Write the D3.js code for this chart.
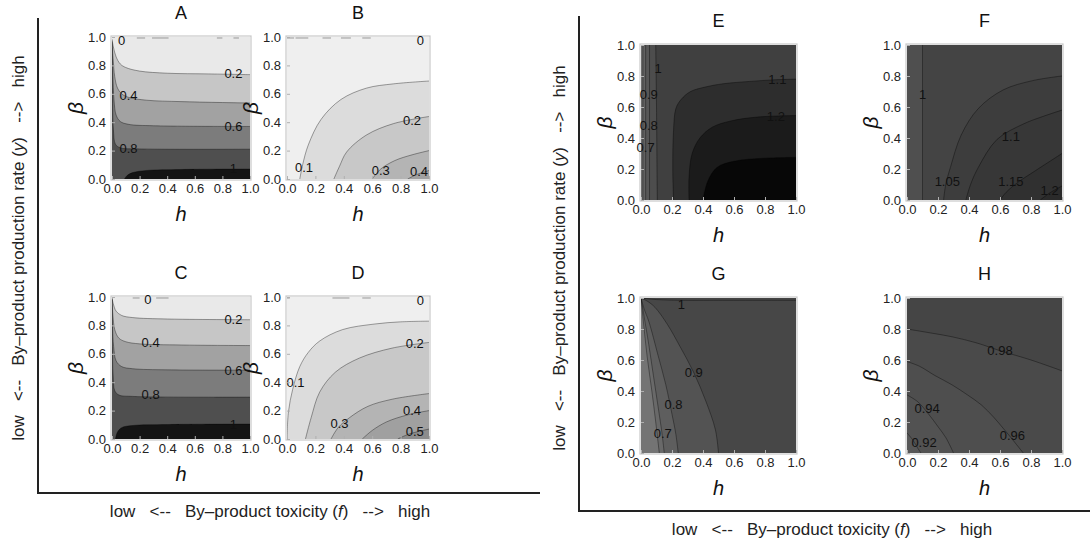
<!DOCTYPE html>
<html>
<head>
<meta charset="utf-8">
<script src="https://cdn.jsdelivr.net/npm/d3@7"></script>
<style>
  body { margin: 0; background: #fff; }
  svg { font-family: "Liberation Sans", Arial, sans-serif; }
</style>
</head>
<body>
<svg id="chart" width="1090" height="546"></svg>
<script>
// ---- data: contour lines as [h, beta] points ----
const tickValues = [0, 0.2, 0.4, 0.6, 0.8, 1.0];
const panelNames = ["A", "B", "C", "D", "E", "F", "G", "H"];

const contoursA = [
  { level: 0.2, pts: [[0, 0.985], [0.01, 0.93], [0.03, 0.86], [0.06, 0.81], [0.1, 0.785], [0.2, 0.76], [0.4, 0.745], [0.7, 0.74], [1, 0.735]], close: [[1, 0], [0, 0]] },
  { level: 0.4, pts: [[0, 0.975], [0.008, 0.85], [0.02, 0.72], [0.04, 0.64], [0.07, 0.6], [0.12, 0.575], [0.25, 0.555], [0.5, 0.545], [1, 0.535]], close: [[1, 0], [0, 0]] },
  { level: 0.6, pts: [[0, 0.965], [0.006, 0.75], [0.015, 0.55], [0.03, 0.45], [0.06, 0.405], [0.12, 0.385], [0.3, 0.375], [1, 0.37]], close: [[1, 0], [0, 0]] },
  { level: 0.8, pts: [[0, 0.955], [0.004, 0.6], [0.01, 0.35], [0.025, 0.245], [0.06, 0.22], [0.2, 0.212], [1, 0.21]], close: [[1, 0], [0, 0]] },
  { level: 1, pts: [[0.09, 0], [0.11, 0.025], [0.15, 0.045], [0.25, 0.06], [0.5, 0.067], [1, 0.07]], close: [[1, 0]] }
];
const labelsA = [["0", 0.07, 0.975], ["0.2", 0.88, 0.74], ["0.4", 0.12, 0.585], ["0.6", 0.88, 0.37], ["0.8", 0.12, 0.215], ["1", 0.88, 0.075]];
const zeroDashA = [[0.18, 0.24], [0.29, 0.41], [0.76, 0.8], [0.88, 0.92]];

const contoursB = [
  { level: 0.1, pts: [[0.09, 0], [0.11, 0.1], [0.15, 0.24], [0.24, 0.42], [0.38, 0.56], [0.56, 0.64], [0.75, 0.67], [1, 0.69]], close: [[1, 0]] },
  { level: 0.2, pts: [[0.33, 0], [0.37, 0.09], [0.42, 0.19], [0.56, 0.31], [0.75, 0.39], [1, 0.44]], close: [[1, 0]] },
  { level: 0.3, pts: [[0.6, 0], [0.66, 0.07], [0.76, 0.13], [0.88, 0.17], [1, 0.2]], close: [[1, 0]] },
  { level: 0.4, pts: [[0.85, 0], [0.91, 0.03], [1, 0.06]], close: [[1, 0]] }
];
const labelsB = [["0", 0.94, 0.975], ["0.2", 0.88, 0.41], ["0.1", 0.12, 0.08], ["0.3", 0.66, 0.06], ["0.4", 0.93, 0.05]];
const zeroDashB = [[0.0, 0.05], [0.06, 0.15], [0.25, 0.31], [0.38, 0.45], [0.53, 0.59]];

const contoursC = [
  { level: 0.2, pts: [[0, 0.995], [0.01, 0.95], [0.03, 0.9], [0.07, 0.87], [0.15, 0.855], [0.4, 0.845], [1, 0.84]], close: [[1, 0], [0, 0]] },
  { level: 0.4, pts: [[0, 0.99], [0.006, 0.88], [0.02, 0.77], [0.05, 0.71], [0.1, 0.685], [0.2, 0.67], [0.5, 0.662], [1, 0.658]], close: [[1, 0], [0, 0]] },
  { level: 0.6, pts: [[0, 0.985], [0.004, 0.8], [0.012, 0.65], [0.03, 0.55], [0.07, 0.51], [0.15, 0.495], [0.4, 0.487], [1, 0.485]], close: [[1, 0], [0, 0]] },
  { level: 0.8, pts: [[0, 0.98], [0.003, 0.65], [0.008, 0.45], [0.02, 0.34], [0.05, 0.31], [0.15, 0.3], [1, 0.295]], close: [[1, 0], [0, 0]] },
  { level: 1, pts: [[0.025, 0], [0.04, 0.05], [0.07, 0.08], [0.15, 0.095], [0.4, 0.102], [1, 0.105]], close: [[1, 0]] }
];
const labelsC = [["0", 0.26, 0.98], ["0.2", 0.88, 0.84], ["0.4", 0.28, 0.68], ["0.6", 0.88, 0.48], ["0.8", 0.28, 0.31], ["1", 0.88, 0.105]];
const zeroDashC = [[0.15, 0.2], [0.32, 0.41]];

const contoursD = [
  { level: 0.1, pts: [[0, 0], [0.01, 0.19], [0.04, 0.35], [0.09, 0.51], [0.15, 0.61], [0.23, 0.69], [0.39, 0.77], [0.62, 0.81], [0.8, 0.825], [1, 0.83]], close: [[1, 0]] },
  { level: 0.2, pts: [[0.13, 0], [0.17, 0.15], [0.23, 0.33], [0.34, 0.47], [0.51, 0.57], [0.74, 0.64], [1, 0.68]], close: [[1, 0]] },
  { level: 0.3, pts: [[0.31, 0], [0.36, 0.08], [0.44, 0.15], [0.57, 0.23], [0.74, 0.28], [1, 0.32]], close: [[1, 0]] },
  { level: 0.4, pts: [[0.53, 0], [0.6, 0.06], [0.7, 0.12], [0.85, 0.17], [1, 0.2]], close: [[1, 0]] },
  { level: 0.5, pts: [[0.78, 0], [0.86, 0.035], [1, 0.07]], close: [[1, 0]] }
];
const labelsD = [["0", 0.94, 0.975], ["0.2", 0.9, 0.67], ["0.1", 0.06, 0.4], ["0.3", 0.37, 0.11], ["0.4", 0.88, 0.2], ["0.5", 0.9, 0.05]];
const zeroDashD = [[0.0, 0.02], [0.32, 0.44], [0.53, 0.59]];

const contoursE = [
  { level: 0.7, pts: [[0.012, 1], [0.012, 0]], close: [[1, 0], [1, 1]] },
  { level: 0.8, pts: [[0.03, 1], [0.03, 0]], close: [[1, 0], [1, 1]] },
  { level: 0.9, pts: [[0.055, 1], [0.055, 0]], close: [[1, 0], [1, 1]] },
  { level: 1, pts: [[0.095, 1], [0.1, 0.6], [0.105, 0]], close: [[1, 0], [1, 1]] },
  { level: 1.1, pts: [[0.21, 0], [0.205, 0.2], [0.21, 0.45], [0.225, 0.59], [0.26, 0.65], [0.32, 0.7], [0.42, 0.73], [0.53, 0.75], [0.7, 0.765], [0.85, 0.775], [1, 0.78]], close: [[1, 0]] },
  { level: 1.2, pts: [[0.31, 0], [0.31, 0.15], [0.33, 0.3], [0.38, 0.4], [0.46, 0.47], [0.58, 0.51], [0.75, 0.535], [1, 0.545]], close: [[1, 0]] },
  { level: 1.3, pts: [[0.4, 0], [0.43, 0.12], [0.49, 0.21], [0.6, 0.25], [0.8, 0.27], [1, 0.275]], close: [[1, 0]] }
];
const labelsE = [["1", 0.11, 0.85], ["0.9", 0.05, 0.68], ["0.8", 0.05, 0.48], ["0.7", 0.03, 0.34], ["1.1", 0.88, 0.775], ["1.2", 0.87, 0.54]];

const contoursF = [
  { level: 1, pts: [[0.1, 1], [0.1, 0]], close: [[1, 0], [1, 1]] },
  { level: 1.05, pts: [[0.236, 0], [0.25, 0.1], [0.28, 0.21], [0.35, 0.42], [0.46, 0.59], [0.62, 0.71], [0.81, 0.77], [1, 0.8]], close: [[1, 0]] },
  { level: 1.1, pts: [[0.38, 0], [0.41, 0.1], [0.46, 0.21], [0.58, 0.39], [0.75, 0.49], [0.88, 0.54], [1, 0.58]], close: [[1, 0]] },
  { level: 1.15, pts: [[0.6, 0], [0.64, 0.05], [0.71, 0.11], [0.83, 0.19], [1, 0.3]], close: [[1, 0]] },
  { level: 1.2, pts: [[0.86, 0], [0.92, 0.045], [1, 0.09]], close: [[1, 0]] }
];
const labelsF = [["1", 0.1, 0.68], ["1.05", 0.26, 0.12], ["1.1", 0.67, 0.41], ["1.15", 0.67, 0.12], ["1.2", 0.92, 0.06]];

const contoursG = [
  { level: 0.6, pts: [[0, 1], [0.015, 0.85], [0.04, 0.62], [0.07, 0.4], [0.095, 0.2], [0.118, 0]], close: [[1, 0], [1, 1]] },
  { level: 0.7, pts: [[0, 1], [0.02, 0.88], [0.05, 0.7], [0.08, 0.5], [0.11, 0.3], [0.135, 0.13], [0.15, 0]], close: [[1, 0], [1, 1]] },
  { level: 0.8, pts: [[0, 1], [0.02, 0.93], [0.05, 0.85], [0.11, 0.63], [0.16, 0.44], [0.2, 0.25], [0.225, 0.12], [0.24, 0]], close: [[1, 0], [1, 1]] },
  { level: 0.9, pts: [[0, 1], [0.04, 0.98], [0.09, 0.94], [0.17, 0.83], [0.25, 0.69], [0.34, 0.52], [0.42, 0.33], [0.48, 0.15], [0.5, 0]], close: [[1, 0], [1, 1]] },
  { level: 1, pts: [[0, 1], [0.1, 0.99], [0.26, 0.985], [0.5, 0.985], [1, 0.985]], close: [[1, 1]] }
];
const labelsG = [["1", 0.26, 0.96], ["0.9", 0.34, 0.52], ["0.8", 0.21, 0.31], ["0.7", 0.14, 0.125]];

const contoursH = [
  { level: 0.92, pts: [[0, 0.13], [0.04, 0.08], [0.07, 0.03], [0.09, 0]], close: [[1, 0], [1, 1], [0, 1]] },
  { level: 0.94, pts: [[0, 0.375], [0.07, 0.33], [0.14, 0.25], [0.2, 0.17], [0.25, 0.1], [0.3, 0]], close: [[1, 0], [1, 1], [0, 1]] },
  { level: 0.96, pts: [[0, 0.59], [0.08, 0.56], [0.18, 0.5], [0.29, 0.44], [0.39, 0.375], [0.48, 0.31], [0.56, 0.23], [0.62, 0.16], [0.67, 0.1], [0.75, 0]], close: [[1, 0], [1, 1], [0, 1]] },
  { level: 0.98, pts: [[0, 0.8], [0.15, 0.775], [0.29, 0.75], [0.45, 0.71], [0.6, 0.66], [0.8, 0.6], [1, 0.53]], close: [[1, 1], [0, 1]] }
];
const labelsH = [["0.98", 0.6, 0.66], ["0.94", 0.13, 0.29], ["0.96", 0.68, 0.11], ["0.92", 0.11, 0.07]];

// ---- styles (fill for the base region, then one per contour) ----
const fillsA = ["#e9e9e9", "#c6c6c6", "#a2a2a2", "#7c7c7c", "#4f4f4f", "#141414"];
const fillsB = ["#efefef", "#dcdcdc", "#c8c8c8", "#b4b4b4", "#a0a0a0"];
const fillsC = fillsA;
const fillsD = ["#efefef", "#dcdcdc", "#c8c8c8", "#b4b4b4", "#a0a0a0", "#8c8c8c"];
const fillsE = ["#6c6c6c", "#616161", "#575757", "#4d4d4d", "#404040", "#2d2d2d", "#1b1b1b", "#070707"];
const fillsF = ["#4f4f4f", "#444444", "#3d3d3d", "#373737", "#303030", "#2a2a2a"];
const fillsG = ["#747474", "#696969", "#5e5e5e", "#535353", "#474747", "#444444"];
const fillsH = ["#575757", "#525252", "#4e4e4e", "#4a4a4a", "#454545"];

// ---- layout ----
const BOX = {
  A: { x0: 112, x1: 250, yT: 37, yB: 179 },
  B: { x0: 287, x1: 429, yT: 37, yB: 179 },
  C: { x0: 112, x1: 250, yT: 297, yB: 439 },
  D: { x0: 287, x1: 429, yT: 297, yB: 439 },
  E: { x0: 641, x1: 796, yT: 45, yB: 200 },
  F: { x0: 907, x1: 1062, yT: 45, yB: 200 },
  G: { x0: 641, x1: 796, yT: 298, yB: 453 },
  H: { x0: 907, x1: 1062, yT: 298, yB: 453 }
};

const svg = d3.select("#chart");
const panelData = {
  A: [contoursA, labelsA, fillsA, zeroDashA],
  B: [contoursB, labelsB, fillsB, zeroDashB],
  C: [contoursC, labelsC, fillsC, zeroDashC],
  D: [contoursD, labelsD, fillsD, zeroDashD],
  E: [contoursE, labelsE, fillsE, []],
  F: [contoursF, labelsF, fillsF, []],
  G: [contoursG, labelsG, fillsG, []],
  H: [contoursH, labelsH, fillsH, []]
};

function drawPanel(name) {
  const [contours, labels, fills, dashes] = panelData[name];
  const box = BOX[name];
  const x = d3.scaleLinear().domain([0, 1]).range([box.x0, box.x1]);
  const y = d3.scaleLinear().domain([0, 1]).range([box.yB, box.yT]);
  const g = svg.append("g").attr("id", "panel" + name);

  svg.append("clipPath").attr("id", "clip" + name)
    .append("rect")
    .attr("x", box.x0).attr("y", box.yT)
    .attr("width", box.x1 - box.x0).attr("height", box.yB - box.yT);

  const plot = g.append("g").attr("clip-path", "url(#clip" + name + ")");
  plot.append("rect")
    .attr("x", box.x0).attr("y", box.yT)
    .attr("width", box.x1 - box.x0).attr("height", box.yB - box.yT)
    .attr("fill", fills[0]);

  const line = d3.line()
    .x((d) => x(d[0]))
    .y((d) => y(d[1]))
    .curve(d3.curveCatmullRom.alpha(0.5));

  contours.forEach((c, i) => {
    const d = line(c.pts) + c.close.map((p) => "L" + x(p[0]) + "," + y(p[1])).join("") + "Z";
    plot.append("path").attr("d", d).attr("fill", fills[i + 1]);
  });
  contours.forEach((c) => {
    plot.append("path")
      .attr("d", line(c.pts))
      .attr("fill", "none")
      .attr("stroke", "#000")
      .attr("stroke-opacity", 0.4)
      .attr("stroke-width", 0.9);
  });

  // the "0" contour hugs the top edge and shows as broken dashes
  dashes.forEach((s) => {
    plot.append("line")
      .attr("x1", x(s[0])).attr("x2", x(s[1]))
      .attr("y1", y(0.993)).attr("y2", y(0.993))
      .attr("stroke", "#999").attr("stroke-width", 1);
  });

  // frame with small inside ticks
  g.append("rect")
    .attr("x", box.x0 - 1).attr("y", box.yT - 1)
    .attr("width", box.x1 - box.x0 + 2).attr("height", box.yB - box.yT + 2)
    .attr("fill", "none").attr("stroke", "#c8c8c8").attr("stroke-width", 1.2);

  // contour labels are not clipped (they may spill over the frame)
  labels.forEach((l) => {
    g.append("text")
      .attr("x", x(l[1])).attr("y", y(l[2]))
      .attr("text-anchor", "middle")
      .attr("dominant-baseline", "central")
      .attr("font-size", 13)
      .attr("fill", "#111")
      .text(l[0]);
  });

  const tickStyle = (a) => {
    a.select(".domain").remove();
    a.selectAll(".tick line").attr("stroke", "#b0b0b0");
  };
  g.append("g").attr("transform", "translate(0," + box.yB + ")")
    .call(d3.axisBottom(x).tickValues(tickValues).tickSize(-3).tickFormat(""))
    .call(tickStyle);
  g.append("g").attr("transform", "translate(" + box.x0 + ",0)")
    .call(d3.axisLeft(y).tickValues(tickValues).tickSize(-3).tickFormat(""))
    .call(tickStyle);

  // tick labels
  const xAxis = g.append("g")
    .attr("transform", "translate(0," + (box.yB + 1) + ")")
    .call(d3.axisBottom(x).tickValues(tickValues).tickFormat(d3.format(".1f")).tickSize(0).tickPadding(4));
  const yAxis = g.append("g")
    .attr("transform", "translate(" + (box.x0 - 3) + ",0)")
    .call(d3.axisLeft(y).tickValues(tickValues).tickFormat(d3.format(".1f")).tickSize(0).tickPadding(3));
  [xAxis, yAxis].forEach((a) => {
    a.select(".domain").remove();
    a.selectAll("text").attr("font-size", 13).attr("fill", "#222")
      .attr("font-family", "'Liberation Sans', Arial, sans-serif");
  });

  const cx = (box.x0 + box.x1) / 2;
  const cy = (box.yT + box.yB) / 2;
  g.append("text")
    .attr("x", cx).attr("y", box.yT - 18)
    .attr("text-anchor", "middle")
    .attr("font-size", 18).attr("fill", "#111")
    .text(name);
  g.append("text")
    .attr("x", cx).attr("y", box.yB + 42)
    .attr("text-anchor", "middle")
    .attr("font-size", 20).attr("font-style", "italic").attr("fill", "#111")
    .text("h");
  g.append("text")
    .attr("transform", "translate(" + (box.x0 - 29) + "," + cy + ") rotate(-90)")
    .attr("text-anchor", "middle")
    .attr("font-size", 21).attr("font-style", "italic").attr("fill", "#111")
    .text("β");
}

panelNames.forEach(drawPanel);

// ---- group frames and group labels ----
function groupFrame(xLine, yTop, yLine, xEnd, labelX, labelY, sideX, sideY) {
  svg.append("path")
    .attr("d", "M" + xLine + "," + yTop + "V" + yLine + "H" + xEnd)
    .attr("fill", "none").attr("stroke", "#222").attr("stroke-width", 2);

  const bottom = svg.append("text")
    .attr("x", labelX).attr("y", labelY)
    .attr("text-anchor", "middle")
    .attr("font-size", 17).attr("fill", "#222")
    .style("white-space", "pre");
  bottom.append("tspan").text("low   <--   By\u2013product toxicity (");
  bottom.append("tspan").attr("font-style", "italic").text("f");
  bottom.append("tspan").text(")   -->   high");

  const side = svg.append("text")
    .attr("transform", "translate(" + sideX + "," + sideY + ") rotate(-90)")
    .attr("text-anchor", "middle")
    .attr("font-size", 17).attr("fill", "#222")
    .style("white-space", "pre");
  side.append("tspan").text("low   <--   By\u2013product production rate (");
  side.append("tspan").attr("font-style", "italic").text("y");
  side.append("tspan").text(")   -->   high");
}

groupFrame(38, 18, 493, 540, 270, 517, 24, 248);
groupFrame(579, 16, 511, 1090, 832, 535, 565, 258);
</script>
</body>
</html>
